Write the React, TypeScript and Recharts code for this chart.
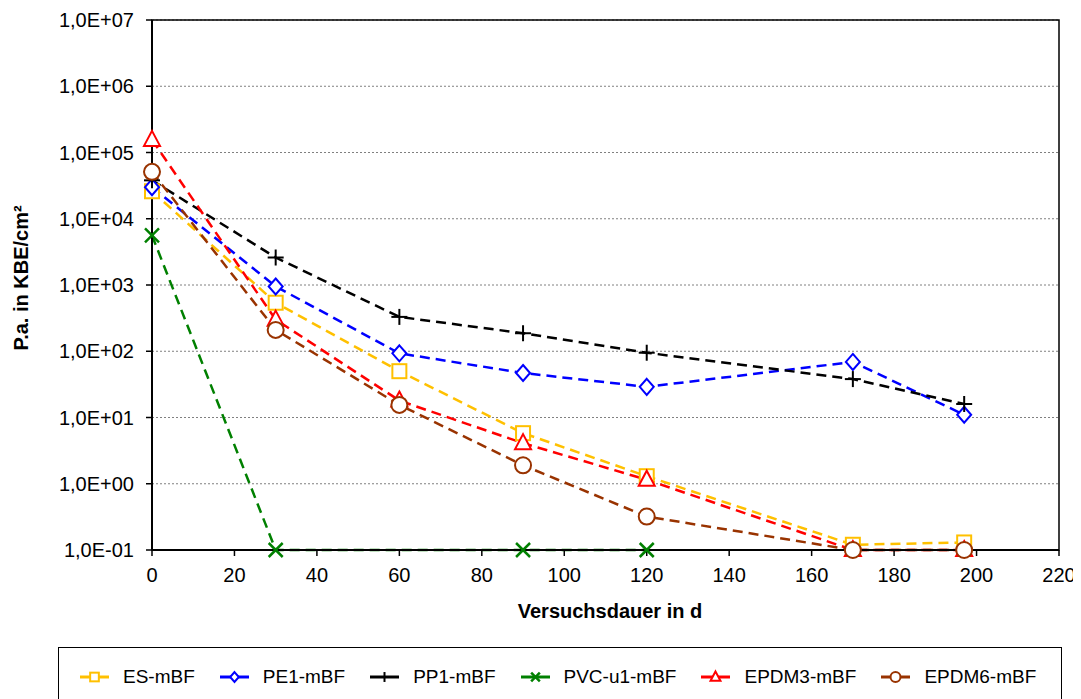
import React from 'react';
import { LineChart, Line, XAxis, YAxis, CartesianGrid, ReferenceArea } from 'recharts';

const days = [0, 30, 60, 90, 120, 170, 197];
const esValues = [26000, 540, 50, 5.8, 1.3, 0.12, 0.13];
const pe1Values = [30000, 950, 93, 47, 29, 69, 11];
const pp1Values = [38000, 2600, 330, 187, 95, 38, 16];
const pvcValues = [5600, 0.1, null, 0.1, 0.1, null, null];
const epdm3Values = [155000, 300, 18, 4.1, 1.15, 0.1, 0.1];
const epdm6Values = [51000, 210, 15.5, 1.9, 0.32, 0.1, 0.1];

const seriesNames = ['ES-mBF', 'PE1-mBF', 'PP1-mBF', 'PVC-u1-mBF', 'EPDM3-mBF', 'EPDM6-mBF'];
const seriesColors = ['#FFC000', '#0000FF', '#000000', '#008000', '#FF0000', '#993300'];
const seriesShapes = ['square', 'diamond', 'plus', 'cross', 'triangle', 'circle'];
const seriesValues = [esValues, pe1Values, pp1Values, pvcValues, epdm3Values, epdm6Values];

const xTicks = [0, 20, 40, 60, 80, 100, 120, 140, 160, 180, 200, 220];
const yTicks = [0.1, 1, 10, 100, 1000, 10000, 100000, 1000000, 10000000];

const FONT = '"Liberation Sans", Arial, sans-serif';

const fmtY = (v: number) => {
  const e = Math.round(Math.log10(v));
  return '1,0E' + (e < 0 ? '-' : '+') + String(Math.abs(e)).padStart(2, '0');
};

function marker(shape: string, cx: number, cy: number, color: string, s: number, key?: string) {
  const sw = 2;
  switch (shape) {
    case 'square':
      return <rect key={key} x={cx - 7 * s} y={cy - 7 * s} width={14 * s} height={14 * s} fill="#fff" stroke={color} strokeWidth={sw} />;
    case 'diamond':
      return <polygon key={key} points={`${cx},${cy - 8 * s} ${cx + 7 * s},${cy} ${cx},${cy + 8 * s} ${cx - 7 * s},${cy}`} fill="#fff" stroke={color} strokeWidth={sw} />;
    case 'plus':
      return (
        <g key={key}>
          <line x1={cx - 8 * s} y1={cy} x2={cx + 8 * s} y2={cy} stroke={color} strokeWidth={sw} />
          <line x1={cx} y1={cy - 8 * s} x2={cx} y2={cy + 8 * s} stroke={color} strokeWidth={sw} />
        </g>
      );
    case 'cross':
      return (
        <g key={key}>
          <line x1={cx - 7 * s} y1={cy - 7 * s} x2={cx + 7 * s} y2={cy + 7 * s} stroke={color} strokeWidth={2.5} />
          <line x1={cx - 7 * s} y1={cy + 7 * s} x2={cx + 7 * s} y2={cy - 7 * s} stroke={color} strokeWidth={2.5} />
        </g>
      );
    case 'triangle':
      return <polygon key={key} points={`${cx},${cy - 9 * s} ${cx + 8 * s},${cy + 6 * s} ${cx - 8 * s},${cy + 6 * s}`} fill="#fff" stroke={color} strokeWidth={sw} />;
    default:
      return <circle key={key} cx={cx} cy={cy} r={8 * s} fill="#fff" stroke={color} strokeWidth={sw} />;
  }
}

export default function App() {
  const seriesData = seriesValues.map((vals) =>
    days.map((d, i) => ({ day: d, value: vals[i] })).filter((p) => p.value !== null)
  );

  return (
    <div style={{ position: 'relative', width: 1073, height: 691, fontFamily: FONT }}>
      <LineChart width={1073} height={640} margin={{ top: 12, right: 22, left: 0, bottom: 0 }}>
        <CartesianGrid horizontal vertical={false} stroke="#808080" strokeDasharray="2 2" />
        <XAxis
          dataKey="day"
          type="number"
          domain={[0, 220]}
          ticks={xTicks}
          allowDuplicatedCategory={false}
          height={98}
          tickSize={6}
          tickMargin={12}
          axisLine={{ stroke: '#000', strokeWidth: 2 }}
          tickLine={{ stroke: '#000', strokeWidth: 1.5 }}
          tick={{ fill: '#000', fontSize: 20, fontFamily: FONT }}
          label={() => (
            <text x={602} y={610} textAnchor="middle" fontSize={20} fontWeight="bold" fontFamily={FONT} fill="#000">
              Versuchsdauer in d
            </text>
          )}
        />
        <YAxis
          type="number"
          scale="log"
          domain={[0.1, 10000000]}
          ticks={yTicks}
          tickFormatter={fmtY}
          width={144}
          tickSize={6}
          tickMargin={12}
          axisLine={{ stroke: '#000', strokeWidth: 2 }}
          tickLine={{ stroke: '#000', strokeWidth: 1.5 }}
          tick={{ fill: '#000', fontSize: 20, fontFamily: FONT }}
          label={() => (
            <text x={20} y={270} transform="rotate(-90 20 270)" textAnchor="middle" fontSize={20} fontWeight="bold" fontFamily={FONT} fill="#000">
              P.a. in KBE/cm²
            </text>
          )}
        />
        <ReferenceArea x1={0} x2={220} y1={0.1} y2={10000000} fill="none" stroke="#000" strokeWidth={1.5} ifOverflow="visible" />
        {seriesNames.map((name, si) => (
          <Line
            key={name}
            data={seriesData[si]}
            dataKey="value"
            name={name}
            stroke={seriesColors[si]}
            strokeWidth={2.5}
            strokeDasharray="10 6"
            isAnimationActive={false}
            dot={(p: any) => marker(seriesShapes[si], p.cx, p.cy, seriesColors[si], 1, `${name}-${p.index}`)}
            activeDot={false}
          />
        ))}
      </LineChart>
      <div
        style={{
          position: 'absolute',
          left: 50,
          top: 639,
          width: 1004,
          height: 60,
          border: '1px solid #000',
          display: 'flex',
          flexWrap: 'nowrap',
          alignItems: 'center',
          paddingLeft: 21,
          boxSizing: 'border-box',
          fontSize: 19,
          fontFamily: FONT,
          color: '#000',
          whiteSpace: 'nowrap',
        }}
      >
        {seriesNames.map((name, si) => (
          <div key={name} style={{ display: 'flex', alignItems: 'center', marginRight: 25, flexShrink: 0 }}>
            <svg width={29} height={16} style={{ marginRight: 14, flexShrink: 0 }}>
              <line x1={0} y1={8} x2={29} y2={8} stroke={seriesColors[si]} strokeWidth={3} />
              {marker(seriesShapes[si], 14.5, 8, seriesColors[si], 0.62)}
            </svg>
            <span style={{ whiteSpace: 'nowrap' }}>{name}</span>
          </div>
        ))}
      </div>
    </div>
  );
}
